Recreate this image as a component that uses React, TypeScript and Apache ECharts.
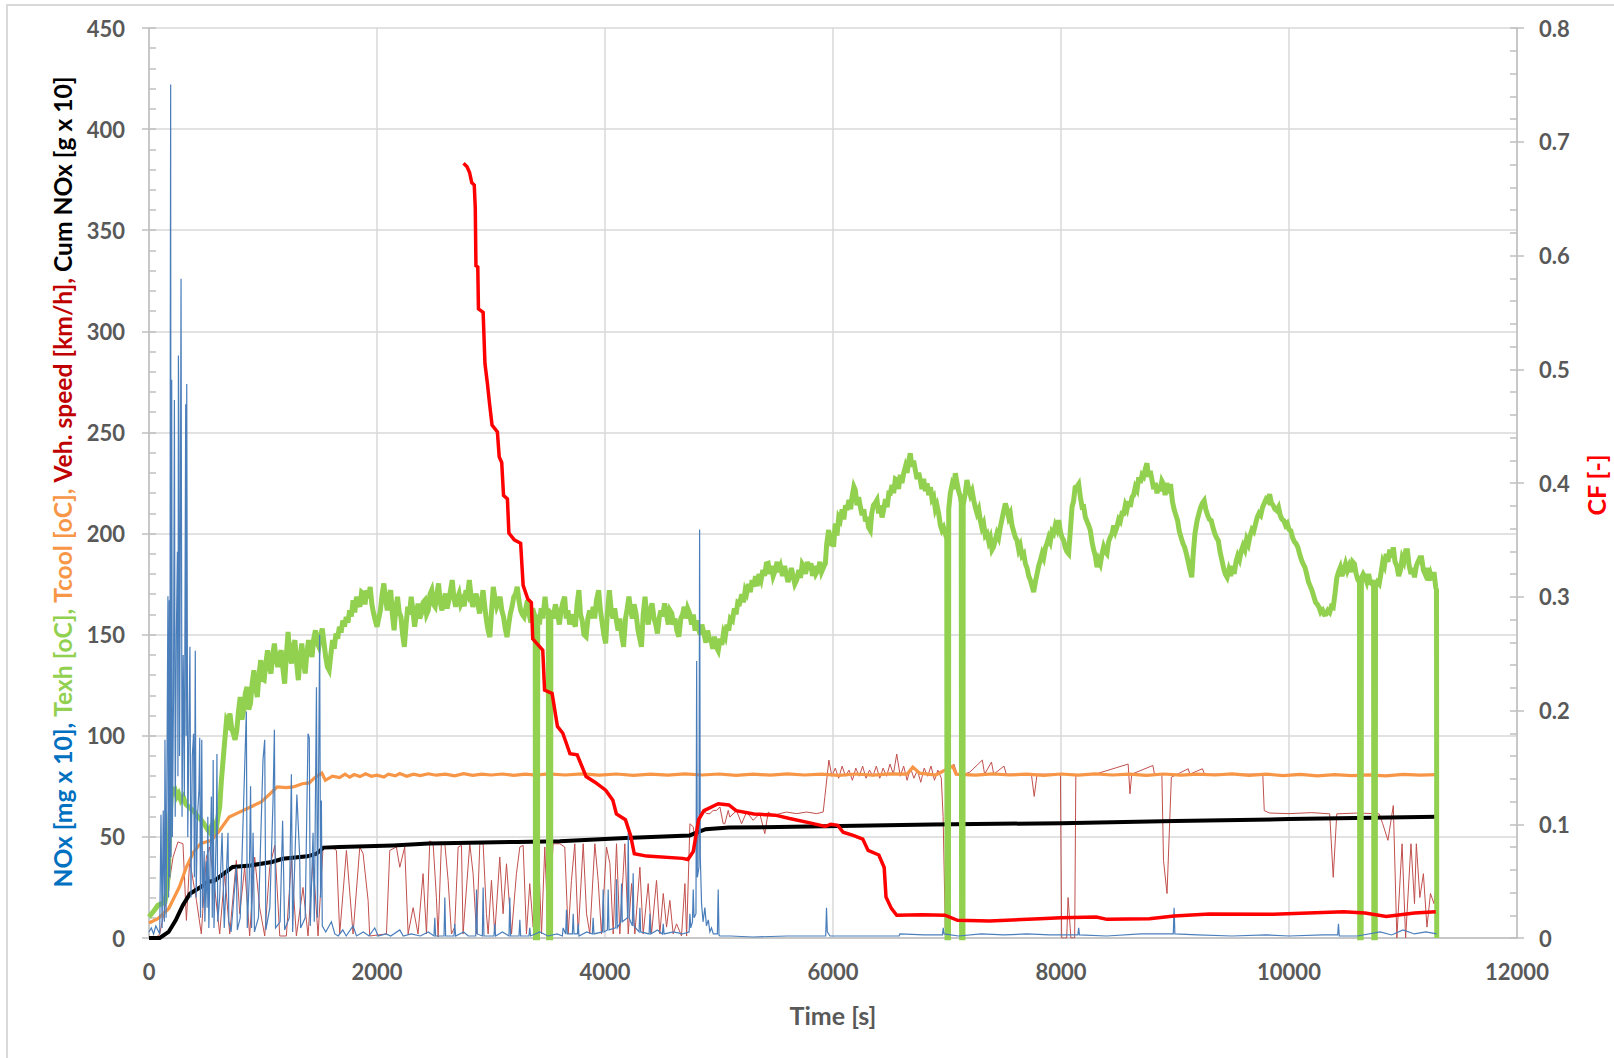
import React, { useRef, useEffect } from 'react';
import * as echarts from 'echarts';

// time [s] -> value pairs
const noxPoints = [
  [0, 3], [20, 5], [40, 2], [60, 6], [94, 2], [105, 61], [115, 5], [125, 63], [135, 8], [140, 98], [150, 10],
  [166, 169], [172, 20], [178, 167], [183, 30], [187, 307], [190, 422], [193, 40], [199, 276], [205, 50],
  [215, 120], [223, 266], [230, 60], [240, 150], [249, 191], [254, 80], [258, 288], [263, 243], [268, 90],
  [274, 180], [281, 326], [290, 60], [300, 140], [310, 70], [322, 264], [326, 100], [331, 274], [340, 50],
  [350, 100], [359, 144], [368, 20], [380, 90], [391, 101], [398, 30], [406, 142], [414, 20], [425, 60],
  [438, 73], [445, 99], [452, 10], [463, 98], [470, 15], [484, 43], [490, 8], [503, 38], [510, 15], [516, 60],
  [525, 5], [547, 70], [555, 10], [563, 88], [570, 5], [591, 55], [596, 91], [603, 8], [620, 20], [641, 52],
  [649, 32], [660, 5], [693, 52], [700, 8], [720, 3], [766, 35], [775, 4], [800, 10], [854, 112], [862, 5],
  [880, 30], [891, 75], [900, 5], [913, 52], [925, 3], [960, 10], [1000, 88], [1015, 98], [1025, 4], [1060, 15],
  [1088, 68], [1100, 103], [1110, 5], [1150, 8], [1172, 58], [1180, 35], [1190, 4], [1230, 10], [1249, 81],
  [1260, 3], [1297, 71], [1322, 40], [1330, 5], [1370, 10], [1395, 101], [1406, 99], [1415, 6], [1439, 52],
  [1450, 8], [1469, 124], [1478, 10], [1497, 150], [1505, 20], [1512, 68], [1520, 6], [1550, 3], [1600, 8],
  [1630, 2], [1660, 1], [1700, 4], [1730, 1], [1790, 6], [1820, 1], [1880, 3], [1930, 1], [1980, 5], [2010, 1],
  [2080, 2], [2120, 1], [2200, 4], [2230, 1], [2300, 2], [2380, 1], [2450, 3], [2500, 1], [2507, 10], [2514, 1],
  [2588, 1], [2595, 20], [2602, 1], [2675, 1], [2682, 7], [2690, 1], [2760, 3], [2800, 1], [2866, 1], [2873, 24],
  [2880, 2], [2924, 1], [2931, 25], [2938, 1], [3026, 1], [3033, 7], [3040, 1], [3100, 3], [3158, 1], [3165, 20],
  [3172, 1], [3246, 1], [3253, 9], [3260, 1], [3333, 1], [3340, 5], [3347, 1], [3428, 3], [3500, 1], [3580, 2],
  [3626, 1], [3633, 5], [3655, 2], [3662, 14], [3669, 2], [3714, 2], [3721, 12], [3728, 2], [3758, 2], [3765, 7],
  [3772, 1], [3840, 3], [3889, 2], [3896, 10], [3903, 2], [3977, 3], [3984, 24], [3991, 3], [4021, 4], [4028, 24],
  [4035, 4], [4094, 5], [4101, 29], [4108, 5], [4138, 8], [4145, 27], [4152, 8], [4197, 10], [4204, 52],
  [4211, 10], [4240, 6], [4247, 32], [4254, 6], [4299, 3], [4306, 15], [4313, 3], [4387, 2], [4394, 12],
  [4401, 2], [4460, 4], [4504, 2], [4511, 7], [4518, 2], [4600, 3], [4680, 2], [4738, 3], [4745, 12], [4752, 5],
  [4767, 8], [4774, 24], [4781, 10], [4798, 12], [4804, 137], [4810, 30], [4824, 35], [4830, 202], [4836, 40],
  [4847, 17], [4860, 8], [4876, 15], [4890, 6], [4906, 9], [4920, 3], [4934, 5], [4950, 2], [4964, 2],
  [4986, 2], [4993, 24], [5000, 1.5], [5007, 1], [5100, 1], [5300, 0.5], [5600, 1], [5900, 1], [5936, 1],
  [5943, 15], [5950, 3], [5973, 1], [6200, 1], [6580, 1], [6587, 2], [6800, 1.5], [6960, 1.5], [6967, 5],
  [6974, 2], [7100, 1], [7300, 2], [7500, 1.5], [7700, 2], [7900, 1.5], [8148, 1.5], [8155, 5], [8162, 1.5],
  [8400, 1], [8700, 2], [8985, 2], [8992, 15], [8999, 2], [9200, 1.5], [9500, 1], [9800, 1.5], [10000, 1],
  [10300, 1.5], [10427, 1.5], [10434, 7], [10441, 1], [10600, 1], [10800, 3], [10900, 1.5], [11000, 4],
  [11100, 2], [11200, 3], [11296, 2],
];

const texhPoints = [
  [0, 10.4], [47, 13.7], [78, 16.2], [110, 17], [140, 17.8], [160, 25], [172, 35], [185, 60], [200, 74.7],
  [215, 72], [230, 73], [245, 70], [260, 71.4], [280, 68], [300, 69.8], [325, 66], [350, 64.8], [375, 63.5],
  [400, 62.3], [425, 60], [450, 59], [475, 57], [500, 54.9], [515, 53.5], [530, 52.4], [545, 55], [560, 56.5],
  [575, 53], [590, 54], [605, 60], [620, 64.8], [635, 78], [650, 87.9], [665, 98], [680, 107.7], [695, 106],
  [710, 111], [725, 104], [740, 101], [755, 98], [770, 102.7], [785, 112], [800, 119.2], [815, 108],
  [830, 112.6], [845, 121], [860, 124.2], [875, 113], [890, 115.9], [905, 126], [920, 132.4], [935, 124],
  [950, 119.2], [965, 130], [980, 137.4], [995, 128], [1010, 127.5], [1025, 136], [1040, 142.3], [1055, 134],
  [1070, 130.8], [1085, 140], [1100, 145.6], [1115, 138], [1130, 134], [1145, 140], [1160, 142.3], [1175, 133],
  [1190, 125.8], [1205, 140], [1220, 151.4], [1235, 140], [1250, 135.7], [1265, 144], [1280, 147.3],
  [1295, 136], [1310, 127.5], [1325, 138], [1340, 145.6], [1355, 137], [1370, 130.8], [1385, 141],
  [1400, 147.3], [1415, 142], [1430, 139], [1445, 148], [1460, 152.2], [1475, 146], [1490, 144], [1505, 150],
  [1520, 153], [1535, 146], [1550, 139], [1565, 134], [1580, 132.4], [1595, 140], [1610, 147.3], [1625, 143],
  [1640, 150.6], [1655, 148], [1670, 153.9], [1685, 151], [1700, 157], [1715, 154], [1730, 158.8], [1745, 156],
  [1760, 162], [1775, 159], [1790, 167], [1805, 161], [1820, 168.7], [1835, 166], [1850, 163.8], [1865, 171],
  [1880, 170.3], [1895, 165], [1910, 172], [1925, 168], [1940, 173.6], [1955, 165], [1970, 160.5], [1985, 157],
  [2000, 153.9], [2015, 158], [2030, 162], [2045, 170], [2060, 175.3], [2075, 168], [2090, 162], [2105, 169],
  [2120, 172], [2135, 160], [2150, 152.2], [2165, 163], [2180, 168.7], [2195, 161], [2210, 158.8], [2225, 150],
  [2240, 144], [2255, 155], [2270, 163.8], [2285, 160], [2300, 168.7], [2315, 162], [2330, 153.9], [2345, 160],
  [2360, 165.4], [2375, 158], [2390, 160.5], [2405, 166], [2420, 167], [2435, 160], [2450, 162], [2465, 170],
  [2480, 172], [2495, 165], [2510, 163.8], [2525, 170], [2540, 175.3], [2555, 166], [2570, 162], [2585, 167],
  [2600, 170.3], [2615, 163], [2630, 167], [2645, 172], [2660, 177], [2675, 168], [2690, 163.8], [2705, 168],
  [2720, 170.3], [2735, 165], [2750, 167], [2765, 164], [2780, 172], [2795, 170], [2810, 177], [2825, 169],
  [2840, 163.8], [2855, 167], [2870, 170.3], [2885, 165], [2900, 160.5], [2915, 166], [2930, 172], [2945, 164],
  [2960, 157], [2975, 152], [2990, 148.8], [3005, 162], [3020, 173.6], [3035, 168], [3050, 163.8], [3065, 166],
  [3080, 168.7], [3095, 162], [3110, 158.8], [3125, 153], [3140, 148.8], [3155, 155], [3170, 160.5],
  [3185, 164], [3200, 168.7], [3215, 170], [3230, 173.6], [3245, 167], [3260, 162], [3275, 160], [3290, 158.8],
  [3305, 163], [3320, 167], [3335, 160], [3350, 156], [3365, 163], [3380, 160], [3388, 158], [3390, 0],
  [3408, 0], [3410, 160], [3425, 155], [3440, 163], [3455, 158], [3474, 168.8], [3490, 160], [3503, 163],
  [3505, 0], [3523, 0], [3525, 162], [3545, 158], [3565, 165], [3583, 160.5], [3600, 155], [3615, 162],
  [3630, 166], [3646, 168.8], [3660, 158], [3675, 162], [3690, 155], [3705, 160], [3720, 157], [3740, 154],
  [3755, 165], [3771, 172], [3785, 160], [3800, 157], [3815, 150], [3834, 149], [3850, 158], [3865, 162],
  [3880, 158], [3896, 163.8], [3910, 158], [3925, 167], [3944, 172], [3960, 162], [3975, 156], [3990, 150],
  [4006, 145.7], [4020, 160], [4038, 172], [4055, 162], [4070, 158], [4085, 163], [4100, 157], [4115, 152],
  [4130, 158], [4145, 150], [4163, 144], [4180, 158], [4195, 163], [4210, 168.8], [4225, 162], [4240, 158],
  [4255, 165], [4272, 160.5], [4290, 152], [4305, 148], [4320, 144], [4335, 160], [4351, 168.8], [4365, 160],
  [4380, 155], [4395, 162], [4413, 165.5], [4430, 158], [4445, 155], [4460, 150.6], [4475, 158], [4490, 162],
  [4505, 159], [4523, 165.5], [4540, 160], [4555, 155], [4570, 162], [4586, 160.5], [4600, 155], [4615, 158],
  [4630, 152], [4648, 149], [4665, 158], [4680, 160], [4695, 163.8], [4710, 158], [4725, 163], [4742, 160.5],
  [4760, 155], [4775, 160], [4790, 152], [4805, 157], [4820, 153], [4835, 150], [4850, 155], [4868, 150.6],
  [4885, 146], [4900, 152], [4915, 148], [4930, 147.3], [4945, 143], [4960, 149], [4975, 144], [4993, 142],
  [5010, 148], [5025, 145], [5040, 151], [5055, 149], [5070, 155], [5085, 152], [5100, 158], [5118, 157],
  [5135, 163], [5150, 160], [5165, 166], [5181, 165.5], [5200, 170], [5215, 166], [5230, 172], [5243, 170.4],
  [5260, 175], [5275, 171], [5290, 177], [5306, 173.7], [5320, 179], [5335, 174], [5350, 180], [5369, 177],
  [5385, 182], [5400, 179], [5415, 185], [5431, 185.3], [5445, 180], [5460, 184], [5475, 179], [5494, 182],
  [5510, 186], [5525, 181], [5540, 183.6], [5557, 179], [5575, 184], [5590, 180], [5605, 176], [5619, 178.7],
  [5635, 183], [5650, 179], [5665, 175], [5682, 177], [5700, 182], [5715, 178], [5730, 185], [5745, 183.6],
  [5760, 180], [5775, 186], [5790, 182], [5807, 185.3], [5820, 179], [5835, 184], [5850, 180], [5870, 182],
  [5885, 186], [5900, 181], [5918, 183.4], [5933, 185.3], [5945, 195], [5962, 201.8], [5975, 194],
  [5990, 196.7], [6005, 193.5], [6020, 205], [6035, 199], [6050, 208], [6064, 206.6], [6080, 212], [6095, 207],
  [6110, 214], [6123, 211.6], [6140, 216.6], [6155, 212], [6167, 218.2], [6183, 223.2], [6196, 221.5],
  [6210, 214], [6225, 218], [6240, 213.2], [6255, 209], [6270, 212], [6285, 206], [6298, 208.3], [6312, 203],
  [6327, 201.6], [6340, 210], [6355, 214], [6370, 215], [6386, 216.6], [6400, 210], [6415, 214], [6430, 208],
  [6444, 211.6], [6460, 217], [6475, 213], [6490, 220], [6503, 219.9], [6518, 224], [6532, 220], [6547, 227],
  [6561, 226.5], [6575, 222], [6590, 229], [6605, 225], [6620, 229.8], [6635, 233], [6650, 230], [6665, 236],
  [6678, 239.7], [6692, 233], [6707, 236], [6722, 231.5], [6737, 227], [6752, 230], [6766, 226.5], [6780, 222],
  [6795, 227], [6810, 221], [6825, 224.8], [6840, 219], [6855, 223], [6869, 217], [6883, 218.2], [6898, 212],
  [6912, 214], [6927, 209.9], [6942, 204], [6956, 201.6], [6970, 203], [6985, 200], [6998, 202], [7000, 0],
  [7013, 0], [7015, 212], [7029, 219.9], [7044, 224], [7058, 222], [7073, 229.8], [7088, 225], [7102, 221],
  [7117, 218.2], [7125, 215], [7128, 0], [7140, 0], [7142, 214], [7160, 220], [7175, 226.5], [7190, 222],
  [7205, 219], [7220, 221], [7234, 216.6], [7248, 213], [7263, 210], [7278, 212], [7292, 206.6], [7306, 203],
  [7321, 205], [7336, 199], [7351, 200], [7366, 196], [7380, 198], [7395, 192], [7409, 193.4], [7424, 197],
  [7438, 200], [7453, 198], [7468, 203.3], [7482, 207], [7497, 211], [7512, 214.9], [7527, 212], [7541, 208],
  [7556, 209.9], [7570, 204], [7585, 201], [7600, 198], [7614, 196.7], [7629, 192], [7643, 194], [7658, 189],
  [7673, 190], [7688, 185], [7702, 183], [7717, 179], [7731, 177], [7746, 174], [7760, 171], [7775, 176],
  [7790, 180], [7804, 184], [7819, 186.7], [7834, 190], [7848, 188], [7863, 193], [7877, 195], [7892, 198],
  [7906, 196], [7921, 201], [7935, 200], [7950, 204], [7965, 202], [7980, 206.6], [7995, 201], [8009, 198],
  [8023, 196.7], [8038, 193], [8052, 191], [8067, 190], [8080, 200], [8097, 213.2], [8110, 216], [8124, 222.8],
  [8140, 223.2], [8155, 224.5], [8170, 218], [8185, 213], [8199, 213.2], [8214, 208], [8228, 206], [8243, 204],
  [8257, 201.6], [8272, 196], [8286, 192], [8301, 189], [8316, 183.4], [8330, 187], [8345, 185], [8360, 190],
  [8374, 193.4], [8389, 191], [8403, 190], [8418, 196], [8433, 198.3], [8448, 200], [8462, 204], [8477, 201],
  [8491, 203.3], [8506, 207], [8520, 206], [8535, 210], [8550, 209.9], [8564, 214], [8579, 212], [8594, 216],
  [8608, 213.2], [8623, 218], [8637, 219], [8652, 223], [8667, 221.5], [8682, 227.8], [8696, 225], [8711, 229],
  [8725, 228.1], [8740, 232], [8754, 234.8], [8768, 228], [8783, 231], [8798, 226.5], [8813, 222], [8828, 225],
  [8842, 219.9], [8856, 224], [8870, 221], [8885, 226], [8899, 224.5], [8913, 219], [8928, 225], [8943, 220],
  [8961, 224.5], [8977, 216], [8992, 212], [9008, 209], [9023, 206.4], [9038, 201], [9054, 198], [9070, 195],
  [9085, 193.2], [9100, 190], [9116, 186], [9131, 182], [9147, 178.4], [9160, 190], [9175, 200], [9194, 206.4],
  [9210, 210], [9225, 213], [9240, 215], [9256, 216.3], [9270, 212], [9287, 209], [9302, 207], [9318, 206.4],
  [9333, 203], [9349, 200], [9364, 198], [9380, 196.5], [9395, 191], [9411, 187], [9426, 183], [9441, 180],
  [9457, 178.4], [9472, 182], [9488, 179], [9503, 184], [9519, 180], [9535, 186], [9550, 189], [9566, 187],
  [9582, 191.5], [9597, 194], [9613, 192], [9628, 197], [9644, 194.8], [9659, 199], [9675, 202], [9690, 201],
  [9706, 204.7], [9721, 208], [9737, 210], [9752, 209], [9768, 213], [9783, 215], [9799, 217], [9815, 216],
  [9830, 219.5], [9846, 215], [9861, 214], [9877, 212], [9892, 211.3], [9908, 213], [9923, 209], [9939, 207],
  [9954, 206.4], [9970, 204], [9985, 205], [10000, 202], [10016, 201.4], [10031, 198], [10047, 196],
  [10062, 195], [10078, 193.2], [10093, 190], [10109, 187], [10124, 185], [10140, 183.3], [10155, 180],
  [10171, 176], [10186, 174], [10202, 171.8], [10217, 169], [10233, 166], [10248, 165], [10264, 163.5],
  [10279, 161], [10295, 162], [10310, 160], [10326, 160.2], [10341, 162], [10357, 161], [10372, 164],
  [10388, 163.5], [10403, 170], [10419, 178], [10434, 181], [10450, 183.3], [10465, 179], [10481, 182],
  [10496, 185], [10512, 181.7], [10527, 184], [10543, 181], [10558, 186], [10574, 185], [10589, 180],
  [10605, 177], [10618, 176], [10620, 0], [10633, 0], [10635, 178], [10651, 180], [10667, 178.4], [10682, 176],
  [10698, 180], [10713, 176], [10729, 175], [10742, 177], [10744, 0], [10757, 0], [10759, 174], [10775, 176],
  [10791, 175], [10806, 180], [10822, 186], [10837, 184], [10853, 190], [10868, 186], [10884, 192],
  [10900, 188], [10915, 193.2], [10930, 186], [10946, 184], [10962, 179], [10977, 181.7], [10993, 188],
  [11008, 186], [11024, 191.5], [11039, 191.5], [11054, 184], [11070, 180], [11085, 183], [11101, 178.4],
  [11117, 184], [11132, 186], [11148, 188], [11163, 188], [11179, 182], [11194, 180], [11210, 183],
  [11225, 176.7], [11241, 180], [11256, 177], [11272, 181], [11287, 173.4], [11294, 172], [11296, 0],
];

const tcoolPoints = [
  [0, 7.4], [78, 9.6], [172, 14.5], [266, 25.2], [328, 35.1], [391, 42.5], [453, 46.7], [547, 48.3],
  [609, 52.4], [703, 59.8], [766, 61.5], [891, 64.8], [984, 67.3], [1047, 70.5], [1125, 74.7], [1203, 74.4],
  [1266, 74.7], [1344, 76.3], [1406, 76.7], [1453, 79.3], [1516, 81.6], [1547, 78], [1609, 80], [1672, 79.3],
  [1720, 81], [1760, 79.5], [1800, 80.8], [1850, 79.8], [1900, 81.2], [1950, 80], [2000, 80.5], [2060, 79.6],
  [2100, 81], [2160, 80.2], [2200, 81.3], [2260, 80], [2320, 81], [2380, 80.3], [2450, 81.2], [2520, 80.5],
  [2600, 81], [2680, 80.2], [2760, 81.3], [2840, 80.4], [2920, 81], [3000, 80.6], [3100, 81.1], [3200, 80.4],
  [3300, 81], [3400, 80.5], [3500, 81.2], [3650, 80.6], [3800, 81.2], [3950, 80.5], [4100, 81.1],
  [4250, 80.4], [4400, 81], [4550, 80.5], [4700, 81.2], [4850, 80.6], [5000, 81.1], [5150, 80.4], [5300, 81],
  [5450, 80.5], [5600, 81.2], [5750, 80.6], [5900, 81], [6050, 80.4], [6200, 81.1], [6350, 80.5], [6500, 81.2],
  [6650, 81], [6700, 84.5], [6760, 81.5], [6900, 80.6], [7050, 85], [7080, 81], [7250, 80.5], [7400, 81.2],
  [7550, 80.6], [7700, 81], [7850, 80.4], [8000, 81.1], [8150, 80.5], [8300, 81.2], [8450, 80.6], [8600, 81],
  [8750, 80.4], [8900, 81.1], [9050, 80.5], [9200, 81], [9350, 80.6], [9500, 81.2], [9650, 80.4], [9800, 81],
  [9950, 80.3], [10100, 80.9], [10250, 80.2], [10400, 80.8], [10550, 80.3], [10700, 80.7], [10850, 80.2],
  [11000, 80.9], [11150, 80.5], [11296, 80.8],
];

const speedPoints = [
  [0, 0], [60, 0], [94, 2], [130, 12], [167, 23.6], [211, 40], [254, 47.5], [298, 46.6], [328, 8.7],
  [357, 38.4], [416, 18.6], [459, 2], [503, 40], [532, 45], [576, 25], [620, 2], [664, 31.8], [708, 2],
  [766, 38.4], [796, 12], [839, 35], [883, 1], [927, 40], [971, 15], [1015, 1], [1059, 35], [1103, 45.8],
  [1147, 1], [1205, 1], [1249, 38.4], [1293, 1], [1351, 25], [1395, 1], [1439, 38.4], [1483, 1], [1527, 45],
  [1600, 45], [1644, 43.3], [1673, 2], [1732, 43.3], [1790, 2], [1849, 45], [1878, 41.7], [1922, 18.6],
  [1936, 1], [2083, 2], [2112, 43.3], [2170, 45], [2200, 35], [2243, 45], [2273, 2], [2317, 15], [2360, 2],
  [2404, 31.8], [2434, 2], [2463, 48], [2492, 47], [2521, 20], [2536, 0.5], [2565, 47.5], [2595, 46.6],
  [2624, 28.5], [2653, 2], [2682, 5.4], [2712, 45], [2741, 45.8], [2755, 2], [2814, 46.6], [2843, 31.8],
  [2873, 2], [2902, 46.6], [2931, 46.6], [2960, 12], [2975, 2], [3004, 28.5], [3033, 2], [3077, 40],
  [3106, 12], [3136, 36.7], [3180, 2], [3223, 31.8], [3253, 45], [3282, 45.8], [3311, 2], [3340, 26.9],
  [3370, 5.4], [3414, 45], [3443, 2], [3472, 45], [3501, 2], [3545, 46.6], [3604, 46.6], [3647, 45],
  [3677, 2], [3706, 28.5], [3735, 46.6], [3765, 2], [3809, 46.6], [3838, 12], [3867, 2], [3911, 46.6],
  [3940, 28.5], [3969, 2], [4013, 45], [4043, 36.7], [4072, 2], [4101, 46.6], [4130, 2], [4174, 46.6],
  [4204, 2], [4233, 26.9], [4262, 2], [4306, 35], [4335, 2], [4379, 26.9], [4408, 2], [4452, 28.5],
  [4481, 2], [4511, 22], [4540, 5.4], [4569, 18.6], [4598, 2], [4628, 7], [4671, 1], [4701, 26.9], [4716, 1],
  [4745, 56.5], [4774, 55], [4804, 41.7], [4833, 61.5], [4862, 63.1], [4890, 61.5], [4920, 61.5],
  [4949, 63.1], [4979, 63.1], [5008, 64.8], [5037, 56.5], [5051, 56.5], [5081, 63.1], [5095, 59.8],
  [5154, 63], [5198, 56.5], [5242, 62.3], [5300, 58.2], [5358, 61.5], [5402, 51.6], [5432, 62.3],
  [5475, 60.6], [5534, 61.5], [5592, 62.3], [5680, 61.5], [5768, 62.3], [5856, 61.5], [5914, 62.3],
  [5929, 70], [5964, 88], [5990, 80], [6020, 84], [6050, 79], [6080, 85], [6110, 80], [6140, 83], [6170, 78],
  [6200, 84], [6230, 80], [6260, 85], [6290, 79], [6320, 83], [6350, 80], [6380, 85], [6410, 79], [6440, 84],
  [6470, 80], [6500, 86], [6530, 81], [6559, 91], [6590, 80], [6620, 85], [6650, 78], [6680, 84], [6710, 79],
  [6740, 83], [6770, 77], [6800, 84], [6830, 80], [6860, 85], [6890, 78], [6920, 83], [6950, 79], [6966, 60],
  [6985, 5], [7000, 40], [7030, 84], [7060, 86], [7090, 81], [7150, 81], [7200, 82], [7310, 88], [7330, 81],
  [7390, 87], [7410, 81], [7500, 85], [7520, 81], [7740, 81], [7765, 70], [7790, 81], [7995, 81], [8006, 0],
  [8050, 0], [8062, 20], [8087, 0], [8120, 0], [8130, 80.4], [8300, 81], [8589, 86], [8605, 71.3], [8620, 81],
  [8806, 85.3], [8820, 81], [8885, 81], [8899, 38.4], [8930, 22], [8968, 79.5], [9116, 83.7], [9130, 81],
  [9240, 83.7], [9260, 81], [9770, 81], [9783, 63], [9830, 61.8], [10000, 61.5], [10200, 62], [10357, 61.4],
  [10388, 30], [10419, 61.4], [10600, 61.8], [10791, 61.4], [10822, 56.5], [10868, 48.3], [10915, 65.5],
  [10946, 0], [10992, 46.6], [11023, 0], [11070, 46.6], [11101, 17], [11117, 46.6], [11148, 20],
  [11179, 31.8], [11210, 5.4], [11241, 22], [11272, 17], [11293, 26.8],
];

const cumNoxPoints = [
  [0, 0], [94, 0], [172, 3], [234, 8.7], [297, 16.2], [359, 21.9], [453, 25.2], [516, 27.7], [578, 28.5],
  [656, 31.8], [734, 35.1], [891, 35.9], [1078, 37.6], [1172, 39.2], [1391, 40.4], [1469, 41.7],
  [1531, 44.7], [1672, 45], [2141, 45.8], [2453, 46.7], [3234, 47.5], [3603, 47.8], [4179, 49.5],
  [4742, 50.7], [4821, 52.5], [4883, 53.8], [5087, 54.6], [5933, 55.2], [6872, 56.1], [8000, 56.8],
  [9000, 57.8], [10000, 58.8], [11302, 60],
];

const cfPoints = [
  [2759, 0.681], [2790, 0.678], [2812, 0.673], [2831, 0.664], [2853, 0.662], [2862, 0.642], [2868, 0.591],
  [2884, 0.59], [2890, 0.553], [2931, 0.55], [2947, 0.505], [2969, 0.487], [2987, 0.47], [3009, 0.451],
  [3056, 0.445], [3072, 0.423], [3094, 0.418], [3110, 0.389], [3144, 0.386], [3157, 0.356], [3204, 0.35],
  [3260, 0.347], [3282, 0.31], [3323, 0.298], [3354, 0.295], [3366, 0.263], [3454, 0.253], [3470, 0.218],
  [3536, 0.215], [3583, 0.186], [3630, 0.18], [3693, 0.162], [3756, 0.161], [3834, 0.142], [3912, 0.137],
  [4006, 0.13], [4069, 0.121], [4100, 0.109], [4179, 0.104], [4225, 0.09], [4257, 0.074], [4366, 0.072],
  [4680, 0.07], [4727, 0.069], [4774, 0.076], [4821, 0.104], [4868, 0.112], [4993, 0.118], [5087, 0.117],
  [5150, 0.112], [5306, 0.109], [5494, 0.108], [5619, 0.105], [5807, 0.101], [5933, 0.098], [5980, 0.1],
  [6042, 0.099], [6089, 0.093], [6183, 0.09], [6261, 0.087], [6308, 0.077], [6402, 0.073], [6449, 0.062],
  [6465, 0.036], [6512, 0.026], [6559, 0.02], [6778, 0.0205], [6982, 0.02], [7092, 0.0155], [7374, 0.015],
  [7812, 0.017], [8000, 0.0179], [8310, 0.0184], [8403, 0.0164], [8775, 0.017], [8992, 0.0193],
  [9302, 0.021], [9860, 0.0208], [10480, 0.023], [10667, 0.022], [10853, 0.019], [11101, 0.022],
  [11287, 0.023],
];

const FONT = "Lato, 'Open Sans', sans-serif";
const AXIS_GREY = '#BFBFBF';
const GRID_GREY = '#D9D9D9';
const LABEL_GREY = '#595959';
const TITLE_SIZE = 24.6;

const line = (name: string, data: number[][], color: string, width: number, yAxisIndex = 0) => ({
  name,
  type: 'line' as const,
  data,
  yAxisIndex,
  showSymbol: false,
  symbol: 'none',
  lineStyle: { color, width, join: 'miter' as const },
  itemStyle: { color },
  emphasis: { disabled: true },
});

const App: React.FC = () => {
  const chartRef = useRef<HTMLDivElement>(null);

  useEffect(() => {
    document.body.style.margin = '0';
    if (!chartRef.current) return;
    const chart = echarts.init(chartRef.current, undefined, { renderer: 'svg' });

    const tickLabel = { color: LABEL_GREY, fontFamily: FONT, fontWeight: 'bold' as const, fontSize: 22 };
    const richPart = (fill: string) => ({ fill, fontSize: TITLE_SIZE, fontWeight: 'bold', fontFamily: FONT });

    chart.setOption({
      animation: false,
      backgroundColor: '#ffffff',
      grid: { left: 149, right: 97, top: 28, bottom: 120, containLabel: false },
      xAxis: {
        type: 'value',
        min: 0,
        max: 12000,
        interval: 2000,
        name: 'Time [s]',
        nameLocation: 'middle',
        nameGap: 64,
        nameTextStyle: { color: LABEL_GREY, fontFamily: FONT, fontWeight: 'bold', fontSize: 25 },
        axisLine: { show: true, lineStyle: { color: AXIS_GREY, width: 1.5 } },
        axisTick: { show: false },
        axisLabel: { ...tickLabel, margin: 22, formatter: (v: number) => String(v) },
        splitLine: { show: true, lineStyle: { color: GRID_GREY, width: 1.5 } },
      },
      yAxis: [
        {
          type: 'value',
          position: 'left',
          min: 0,
          max: 450,
          interval: 50,
          axisLine: { show: true, lineStyle: { color: AXIS_GREY, width: 1.5 } },
          axisTick: { show: true, inside: false, length: 7, lineStyle: { color: AXIS_GREY, width: 1.5 } },
          axisLabel: { ...tickLabel, margin: 24 },
          splitLine: { show: true, lineStyle: { color: GRID_GREY, width: 1.5 } },
        },
        {
          type: 'value',
          position: 'right',
          min: 0,
          max: 0.8,
          interval: 0.1,
          axisLine: { show: true, lineStyle: { color: AXIS_GREY, width: 1.5 } },
          axisTick: { show: true, inside: false, length: 7, lineStyle: { color: AXIS_GREY, width: 1.5 } },
          axisLabel: {
            ...tickLabel,
            margin: 22,
            formatter: (v: number) => (v === 0 ? '0' : v.toFixed(1)),
          },
          splitLine: { show: false },
        },
        // minor ticks, drawn inside the plot
        {
          type: 'value',
          position: 'left',
          min: 0,
          max: 450,
          interval: 10,
          axisLine: { show: false },
          axisTick: { show: true, inside: true, length: 7, lineStyle: { color: AXIS_GREY, width: 1.5 } },
          axisLabel: { show: false },
          splitLine: { show: false },
        },
        {
          type: 'value',
          position: 'right',
          min: 0,
          max: 0.8,
          interval: 0.02,
          axisLine: { show: false },
          axisTick: { show: true, inside: true, length: 7, lineStyle: { color: AXIS_GREY, width: 1.5 } },
          axisLabel: { show: false },
          splitLine: { show: false },
        },
      ],
      graphic: [
        {
          type: 'rect',
          z: -10,
          shape: { x: 7, y: 5, width: 1700, height: 1100 },
          style: { fill: 'none', stroke: GRID_GREY, lineWidth: 2 },
        },
        {
          type: 'text',
          x: 62,
          y: 482,
          rotation: Math.PI / 2,
          style: {
            text:
              '{a|NOx [mg x 10], }{b|Texh [oC], }{c|Tcool [oC], }{d|Veh. speed [km/h], }{e|Cum NOx [g x 10]}',
            align: 'center',
            verticalAlign: 'middle',
            font: `bold ${TITLE_SIZE}px ${FONT}`,
            rich: {
              a: richPart('#0070C0'),
              b: richPart('#92D050'),
              c: richPart('#F79646'),
              d: richPart('#C00000'),
              e: richPart('#000000'),
            },
          },
        },
        {
          type: 'text',
          x: 1596,
          y: 485,
          rotation: Math.PI / 2,
          style: {
            text: 'CF [-]',
            align: 'center',
            verticalAlign: 'middle',
            fill: '#FF0000',
            font: `bold 25px ${FONT}`,
          },
        },
      ],
      series: [
        line('Veh. speed', speedPoints, '#C0504D', 1),
        line('Tcool', tcoolPoints, '#F79646', 3.2),
        line('Cum NOx', cumNoxPoints, '#000000', 4),
        line('Texh', texhPoints, '#92D050', 5),
        line('NOx', noxPoints, '#4A7EBB', 1.2),
        line('CF', cfPoints, '#FF0000', 3.5, 1),
      ],
    });

    return () => {
      chart.dispose();
    };
  }, []);

  return <div ref={chartRef} style={{ width: 1614, height: 1058 }} />;
};

export default App;
